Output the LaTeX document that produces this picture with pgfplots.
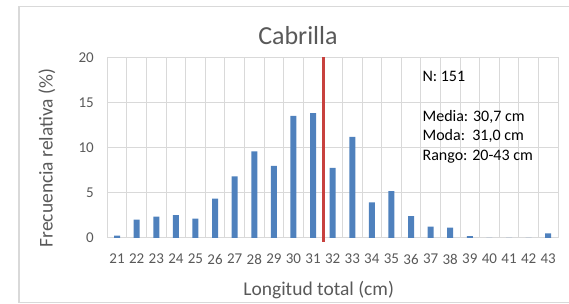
\documentclass[border=0pt]{standalone}
\usepackage{fontspec}
\setmainfont{Carlito}
\usepackage{pgfplots}
\pgfplotsset{compat=1.18}
\definecolor{barblue}{HTML}{4F81BD}
\definecolor{redline}{HTML}{C8413E}
\definecolor{gridgray}{HTML}{D9D9D9}
\definecolor{txtgray}{HTML}{595959}
\definecolor{bordergray}{HTML}{D9D9D9}
\begin{document}
\begin{tikzpicture}
\useasboundingbox (0,0) rectangle (569pt,304pt);
\draw[color=bordergray, line width=1.2pt] (19pt,1.2pt) rectangle (590pt,297.3pt);
\begin{axis}[
  at={(107.3pt,66pt)}, anchor=south west,
  scale only axis, width=450.7pt, height=180.7pt,
  xmin=20.5, xmax=43.5, ymin=0, ymax=20,
  xtick={21,22,...,43},
  ytick={0,5,10,15,20},
  minor xtick={20.5,21.5,...,43.5},
  xminorgrids=true, ymajorgrids=true, xmajorgrids=false,
  grid style={draw=gridgray, line width=1pt},
  minor grid style={draw=gridgray, line width=1pt},
  major tick length=0pt, minor tick length=0pt,
  axis line style={draw=gridgray, line width=1pt},
  /pgf/number format/assume math mode=true,
  tick label style={font=\fontsize{15}{18}\selectfont, color=txtgray},
  xticklabel style={anchor=center, yshift=-21pt},
  yticklabel style={anchor=east, xshift=-10pt},
  clip=false,
  title={Cabrilla},
  title style={at={(axis description cs:0.423,1.086)}, anchor=center, font=\fontsize{26}{30}\selectfont, color=txtgray},
  xlabel={Longitud total (cm)},
  xlabel style={at={(axis description cs:0.469,-0.287)}, anchor=center, font=\fontsize{19.5}{23}\selectfont, color=txtgray},
  ylabel={Frecuencia relativa (\%)},
  ylabel style={at={(axis description cs:-0.134,0.443)}, anchor=center, font=\fontsize{19.5}{23}\selectfont, color=txtgray},
]
\addplot[ybar, bar width=6pt, fill=barblue, draw=none] coordinates {
 (21,0.26) (22,2.03) (23,2.36) (24,2.54) (25,2.14) (26,4.35) (27,6.81)
 (28,9.58) (29,7.99) (30,13.52) (31,13.81) (32,7.77) (33,11.2) (34,3.94)
 (35,5.19) (36,2.43) (37,1.25) (38,1.14) (39,0.22) (40,0) (41,0) (42,0) (43,0.52)
};
\addplot[draw=redline, line width=2.2pt] coordinates {(31.53,-0.4) (31.53,20)};
\node[anchor=base west, font=\fontsize{16}{19}\selectfont] at (axis cs:36.41,17.34) {N: 151};
\node[anchor=base west, font=\fontsize{16}{19}\selectfont] at (axis cs:36.41,12.87) {Media: 30,7 cm};
\node[anchor=base west, font=\fontsize{16}{19}\selectfont] at (axis cs:36.41,10.74) {Moda:\ \ 31,0 cm};
\node[anchor=base west, font=\fontsize{16}{19}\selectfont] at (axis cs:36.41,8.56) {Rango: 20-43 cm};
\end{axis}
\end{tikzpicture}
\end{document}
